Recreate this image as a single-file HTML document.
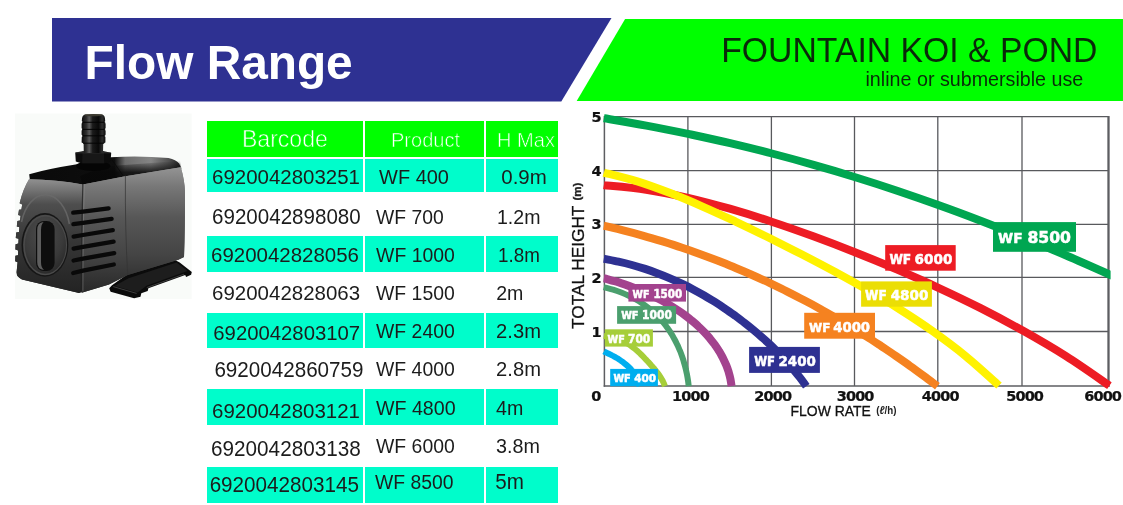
<!DOCTYPE html>
<html lang="en">
<head>
<meta charset="utf-8">
<title>Flow Range - Fountain Koi &amp; Pond</title>
<style>
html,body{margin:0;padding:0;background:#fff;}
body{width:1123px;height:505px;position:relative;overflow:hidden;font-family:"Liberation Sans",Arial,sans-serif;color:#1a1a1a;}
.abs{position:absolute;}
.blue{position:absolute;left:52px;top:18px;width:560px;height:83.5px;background:#2e3192;clip-path:polygon(0 0,559.5px 0,509.3px 100%,0 100%);}
.green{position:absolute;left:576.4px;top:18.6px;width:546.6px;height:82.9px;background:#00ff00;clip-path:polygon(49px 0,100% 0,100% 100%,0 100%);}
h1{position:absolute;margin:0;left:84.5px;top:38.4px;font-size:47.8px;line-height:50px;font-weight:bold;color:#fff;white-space:nowrap;letter-spacing:0px;}
h2{position:absolute;margin:0;left:721.2px;top:29.9px;font-size:33.75px;line-height:40px;font-weight:normal;color:#0a2a0a;white-space:nowrap;transform:scaleY(1.06);transform-origin:0 31.2px;}
.sub{position:absolute;left:865.5px;top:67.5px;font-size:19.7px;line-height:22px;color:#0a2a0a;white-space:nowrap;}
.hd{position:absolute;background:#00ff00;top:121.3px;height:35.5px;}
.ht{position:absolute;color:#fff;white-space:nowrap;line-height:1.1;-webkit-text-stroke:0.55px #00ff00;}
.cy{position:absolute;background:#00fdcb;}
.t{position:absolute;font-size:20px;line-height:22px;white-space:nowrap;color:#1c1c1c;transform:scaleY(1.03);transform-origin:0 18px;}
svg.chart{position:absolute;left:0;top:0;}
svg.pump{position:absolute;left:0;top:0;}
.ax{font-family:"DejaVu Sans","Liberation Sans",sans-serif;font-weight:bold;font-size:13.6px;letter-spacing:-0.8px;fill:#111;stroke:#111;stroke-width:0.25px;}
.al{font-family:"Liberation Sans",sans-serif;font-size:14.1px;fill:#111;stroke:#111;stroke-width:0.3px;}
.al2{font-family:"Liberation Sans",sans-serif;font-size:17px;fill:#111;stroke:#111;stroke-width:0.3px;}
.un{font-family:"Liberation Sans",sans-serif;font-size:11.5px;font-weight:bold;fill:#222;}
.lb{font-family:"DejaVu Sans","Liberation Sans",sans-serif;font-weight:bold;}
</style>
</head>
<body>
<div class="blue"></div>
<div class="green"></div>
<h1>Flow Range</h1>
<h2>FOUNTAIN KOI &amp; POND</h2>
<div class="sub">inline or submersible use</div>
<div class="hd" style="left:207px;width:156.2px"></div>
<div class="hd" style="left:365.3px;width:119.2px"></div>
<div class="hd" style="left:486.4px;width:71.6px"></div>
<span class="ht" id="hb" style="left:241.92px;top:126.91px;font-size:23.09px">Barcode</span>
<span class="ht" id="hp" style="left:391.02px;top:128.73px;font-size:20.00px">Product</span>
<span class="ht" id="hh" style="left:497.04px;top:129.07px;font-size:20.04px">H Max</span>
<div class="cy" style="left:207px;top:159.0px;width:156.2px;height:33.2px"></div>
<div class="cy" style="left:365.3px;top:159.0px;width:119.2px;height:33.2px"></div>
<div class="cy" style="left:486.4px;top:159.0px;width:71.7px;height:33.2px"></div>
<div class="cy" style="left:207px;top:236.2px;width:156.2px;height:35.6px"></div>
<div class="cy" style="left:365.3px;top:236.2px;width:119.2px;height:35.6px"></div>
<div class="cy" style="left:486.4px;top:236.2px;width:71.7px;height:35.6px"></div>
<div class="cy" style="left:207px;top:313.0px;width:156.2px;height:35.3px"></div>
<div class="cy" style="left:365.3px;top:313.0px;width:119.2px;height:35.3px"></div>
<div class="cy" style="left:486.4px;top:313.0px;width:71.7px;height:35.3px"></div>
<div class="cy" style="left:207px;top:389.0px;width:156.2px;height:35.8px"></div>
<div class="cy" style="left:365.3px;top:389.0px;width:119.2px;height:35.8px"></div>
<div class="cy" style="left:486.4px;top:389.0px;width:71.7px;height:35.8px"></div>
<div class="cy" style="left:207px;top:466.5px;width:156.2px;height:36.8px"></div>
<div class="cy" style="left:365.3px;top:466.5px;width:119.2px;height:36.8px"></div>
<div class="cy" style="left:486.4px;top:466.5px;width:71.7px;height:36.8px"></div>
<span class="t" id="b0" style="left:212.00px;top:166.30px;font-size:20.47px">6920042803251</span>
<span class="t" id="p0" style="left:379.10px;top:165.86px;font-size:19.96px">WF 400</span>
<span class="t" id="h0" style="left:501.29px;top:166.02px;font-size:20.46px">0.9m</span>
<span class="t" id="b1" style="left:212.07px;top:205.93px;font-size:20.57px">6920042898080</span>
<span class="t" id="p1" style="left:376.07px;top:206.76px;font-size:19.33px">WF 700</span>
<span class="t" id="h1" style="left:497.00px;top:205.60px;font-size:19.56px">1.2m</span>
<span class="t" id="b2" style="left:211.08px;top:243.75px;font-size:20.45px">6920042828056</span>
<span class="t" id="p2" style="left:376.10px;top:243.62px;font-size:19.41px">WF 1000</span>
<span class="t" id="h2" style="left:498.06px;top:244.60px;font-size:18.81px">1.8m</span>
<span class="t" id="b3" style="left:212.09px;top:281.70px;font-size:20.48px">6920042828063</span>
<span class="t" id="p3" style="left:376.05px;top:281.78px;font-size:19.41px">WF 1500</span>
<span class="t" id="h3" style="left:496.18px;top:281.78px;font-size:19.58px">2m</span>
<span class="t" id="b4" style="left:213.33px;top:321.66px;font-size:20.31px">6920042803107</span>
<span class="t" id="p4" style="left:376.05px;top:319.54px;font-size:19.41px">WF 2400</span>
<span class="t" id="h4" style="left:496.11px;top:320.24px;font-size:20.18px">2.3m</span>
<span class="t" id="b5" style="left:214.38px;top:359.05px;font-size:20.64px">6920042860759</span>
<span class="t" id="p5" style="left:376.05px;top:358.19px;font-size:19.41px">WF 4000</span>
<span class="t" id="h5" style="left:496.10px;top:358.42px;font-size:20.18px">2.8m</span>
<span class="t" id="b6" style="left:212.03px;top:399.72px;font-size:20.47px">6920042803121</span>
<span class="t" id="p6" style="left:375.98px;top:396.76px;font-size:19.64px">WF 4800</span>
<span class="t" id="h6" style="left:496.10px;top:396.60px;font-size:19.61px">4m</span>
<span class="t" id="b7" style="left:211.05px;top:437.54px;font-size:20.71px">6920042803138</span>
<span class="t" id="p7" style="left:376.05px;top:435.22px;font-size:19.41px">WF 6000</span>
<span class="t" id="h7" style="left:496.10px;top:435.36px;font-size:19.76px">3.8m</span>
<span class="t" id="b8" style="left:209.63px;top:473.60px;font-size:20.67px">6920042803145</span>
<span class="t" id="p8" style="left:375.11px;top:470.84px;font-size:19.34px">WF 8500</span>
<span class="t" id="h8" style="left:495.24px;top:471.02px;font-size:20.64px">5m</span>
<svg class="pump" width="210" height="200" viewBox="0 105 210 200" style="top:105px">
<defs>
<linearGradient id="pg-noz" x1="0" y1="0" x2="1" y2="0"><stop offset="0" stop-color="#0b0b0b"/><stop offset="0.2" stop-color="#2e2e2e"/><stop offset="0.32" stop-color="#5a5a5a"/><stop offset="0.46" stop-color="#1a1a1a"/><stop offset="0.7" stop-color="#090909"/><stop offset="0.86" stop-color="#2e2e2e"/><stop offset="1" stop-color="#0a0a0a"/></linearGradient>
<linearGradient id="pg-top" x1="0" y1="0" x2="1" y2="0"><stop offset="0" stop-color="#0a0a0a"/><stop offset="0.56" stop-color="#0e0e0e"/><stop offset="0.63" stop-color="#6c6c6c"/><stop offset="0.8" stop-color="#858585"/><stop offset="0.92" stop-color="#505050"/><stop offset="1" stop-color="#1c1c1c"/></linearGradient><linearGradient id="pg-topf" x1="0" y1="0" x2="0" y2="1"><stop offset="0" stop-color="#080808" stop-opacity="0"/><stop offset="0.45" stop-color="#080808" stop-opacity="0.85"/><stop offset="1" stop-color="#080808" stop-opacity="1"/></linearGradient>
<linearGradient id="pg-left" x1="0" y1="0" x2="0" y2="1"><stop offset="0" stop-color="#909090"/><stop offset="0.08" stop-color="#787878"/><stop offset="0.22" stop-color="#4e4e4e"/><stop offset="0.55" stop-color="#363636"/><stop offset="1" stop-color="#232323"/></linearGradient>
<linearGradient id="pg-lefth" x1="0" y1="0" x2="1" y2="0"><stop offset="0" stop-color="#000" stop-opacity="0.25"/><stop offset="0.35" stop-color="#000" stop-opacity="0"/><stop offset="0.85" stop-color="#fff" stop-opacity="0.05"/><stop offset="1" stop-color="#000" stop-opacity="0.2"/></linearGradient>
<linearGradient id="pg-right" x1="0" y1="0" x2="0" y2="1"><stop offset="0" stop-color="#949494"/><stop offset="0.15" stop-color="#787878"/><stop offset="0.4" stop-color="#575757"/><stop offset="0.7" stop-color="#444"/><stop offset="1" stop-color="#282828"/></linearGradient>
<linearGradient id="pg-righth" x1="0" y1="0" x2="1" y2="0"><stop offset="0" stop-color="#000" stop-opacity="0.12"/><stop offset="0.2" stop-color="#000" stop-opacity="0"/><stop offset="0.425" stop-color="#000" stop-opacity="0.05"/><stop offset="0.43" stop-color="#000" stop-opacity="0.16"/><stop offset="0.7" stop-color="#000" stop-opacity="0.1"/><stop offset="0.9" stop-color="#000" stop-opacity="0.22"/><stop offset="0.94" stop-color="#000" stop-opacity="0.5"/><stop offset="1" stop-color="#000" stop-opacity="0.6"/></linearGradient>
<radialGradient id="pg-disc" cx="0.45" cy="0.3" r="0.8"><stop offset="0" stop-color="#4c4c4c"/><stop offset="0.6" stop-color="#3a3a3a"/><stop offset="1" stop-color="#242424"/></radialGradient>
</defs>
<rect x="15" y="113.5" width="176.6" height="185.5" fill="#f9fbf9"/>
<!-- bracket -->
<path d="M109.2 288.3 L112 285.2 L127.7 274 L171.2 258 L179.7 262.6 L191.8 271.9 L191.1 274.7 L186.1 276.9 L185.2 275 L148.4 288.3 L147.7 291.1 L141.3 293.3 L140.5 296.8 L134.1 298.2 L110.6 291.8 Z" fill="#0b0b0b"/>
<path d="M114.5 286 L128.5 278.2 L176.5 262.6 L187.6 271 L146.5 285.8 L137.5 292.6 Z" fill="#1d1d1d"/>
<path d="M113.2 286.6 L136.6 293.4" stroke="#555" stroke-width="0.7"/>
<path d="M146.8 287.6 L184 274.2" stroke="#4a4a4a" stroke-width="0.8"/>
<!-- body: top surface (black) -->
<path d="M29.2 174.2 Q50 168.6 75.5 164.6 L111 157.2 Q140 155.4 168.5 158 Q176 159.6 179.2 163.6 L181.4 168.4 L124 178.4 L83 186.4 L30 181 Z" fill="url(#pg-top)"/>
<path d="M104 166.4 L124 165 L180 160.8 L181.4 168.4 L124 178.4 L83 186.4 L80 176 Z" fill="url(#pg-topf)"/>
<path d="M111 158.4 L124 177" stroke="#0a0a0a" stroke-width="1" opacity="0.8"/>
<!-- left (front) face -->
<path id="pf-left" d="M29 179.2 Q56 179.4 82.8 184.4 L82.6 200 L81.6 291 Q80.6 293.6 77 292.6 L22 279.4 Q16.4 277.2 16.6 272 L17.6 262.2 L15.2 261.2 L15.4 255.8 L18 255.2 L18.2 250.4 L15.4 249.6 L15.6 244.2 L18.4 243.6 L18.6 238.8 L15.8 238 L16.2 232.6 L19 232 L19.4 227.2 L16.8 226.4 L17.4 221 L20 220.6 L20.6 215.8 L18.2 215 L19 209.8 L21.4 209.4 L22.2 204.6 L19.6 203.2 Q23 189 29 179.2 Z" fill="url(#pg-left)"/>
<use href="#pf-left" fill="url(#pg-lefth)"/>
<!-- right face -->
<path id="pf-right" d="M82.8 184.4 L124 176.4 L180.8 167.2 Q184.6 180 185 192 Q185 230 184 257 L178.3 259.8 L127.7 275 L109 284.6 L81.6 292.8 Q81 240 82.8 183.4 Z" fill="url(#pg-right)"/>
<use href="#pf-right" fill="url(#pg-righth)"/>
<path d="M125.4 175.6 Q125 230 127.7 275" stroke="#333" stroke-width="0.9" fill="none" opacity="0.8"/>
<path d="M82.9 184 Q81.4 240 81.5 292" stroke="#1c1c1c" stroke-width="1.3" fill="none" opacity="0.75"/>
<path d="M84.2 184 Q82.8 240 82.9 291.4" stroke="#9a9a9a" stroke-width="0.9" fill="none" opacity="0.45"/>
<!-- disc -->
<path d="M21.5 222 A25 39.5 0 0 1 69.4 224" stroke="#6a6a6a" stroke-width="1.6" fill="none" opacity="0.8"/>
<ellipse cx="44.9" cy="244.9" rx="23.4" ry="31.8" fill="#161616"/>
<ellipse cx="45.1" cy="245" rx="22" ry="30.2" fill="#4a4a4a"/>
<ellipse cx="45.4" cy="245.2" rx="20.6" ry="28.6" fill="url(#pg-disc)"/>
<rect x="36" y="221" width="18.6" height="50" rx="8" ry="8" fill="#0e0e0e"/>
<path d="M37.2 230 Q37.2 222.6 43.6 222 Q41 224.6 41 230 L41 262 Q41 267.6 44 270 Q37.2 269.4 37.2 262 Z" fill="#5e5e5e"/>
<!-- vents -->
<g stroke="#090909" stroke-width="4.3" stroke-linecap="round" fill="none">
<path d="M73.2 212.7 L83 211.6 L108.6 208.3"/>
<path d="M73.4 224.1 L83 222.8 L111.6 218.8"/>
<path d="M73.6 236.6 L83 235 L112.8 230.2"/>
<path d="M73.6 248.6 L83 246.8 L113.6 241.7"/>
<path d="M73.6 260.5 L83 258.6 L114.2 253.1"/>
<path d="M73.2 273 L83 270.6 L113.8 264.5"/>
</g>
<!-- nut + ring -->
<ellipse cx="93.2" cy="166" rx="17.2" ry="5" fill="#050505"/>
<path d="M75.2 152.6 L82.5 151.2 L104 151.2 L111.2 152.8 L110.6 161.6 L104.4 163.6 L82 163.6 L75.8 161.4 Z" fill="#0c0c0c"/>
<path d="M82.5 151.6 L104 151.6 L104.2 163.2 L82.2 163.2 Z" fill="#171717"/>
<path d="M76 152.8 L110.6 152.8" stroke="#3c3c3c" stroke-width="0.8"/>
<!-- nozzle -->
<path d="M83.8 153 L83.6 143.6 L81.6 142.4 L81.8 137 L83 135.8 L81.6 134.8 L81.6 130.4 L83 129.4 L81.6 128.2 L81.6 123.4 L83 122.3 L81.8 121 Q81.6 114.8 85.6 114.4 L101.6 114.4 Q105.4 114.8 105.2 121 L104.2 122.3 L105.6 123.4 L105.6 128.2 L104.2 129.4 L105.6 130.4 L105.6 134.8 L104.2 135.8 L105.4 137 L105.4 142.4 L103.2 143.6 L103 153 Z" fill="url(#pg-noz)"/>
<g stroke="#030303" stroke-width="1.1" opacity="0.9"><path d="M82 122.3 L105.2 122.3"/><path d="M82 129.4 L105.2 129.4"/><path d="M82 135.8 L105.2 135.8"/><path d="M83 143.2 L104.2 143.2"/></g>
<ellipse cx="93.6" cy="115.1" rx="9.4" ry="1.1" fill="#3c3a30"/>
</svg>

<svg class="chart" width="1123" height="505" viewBox="0 0 1123 505">
<g stroke="#58595d" stroke-width="1.3" fill="none"><line x1="687.90" y1="116.60" x2="687.90" y2="386.10"/><line x1="771.40" y1="116.60" x2="771.40" y2="386.10"/><line x1="854.50" y1="116.60" x2="854.50" y2="386.10"/><line x1="937.80" y1="116.60" x2="937.80" y2="386.10"/><line x1="1022.00" y1="116.60" x2="1022.00" y2="386.10"/><line x1="604.40" y1="331.50" x2="1108.50" y2="331.50"/><line x1="604.40" y1="277.40" x2="1108.50" y2="277.40"/><line x1="604.40" y1="224.35" x2="1108.50" y2="224.35"/><line x1="604.40" y1="170.65" x2="1108.50" y2="170.65"/><line x1="604.40" y1="116.60" x2="1108.50" y2="116.60"/></g>
<line x1="1108.50" y1="116.00" x2="1108.50" y2="386.70" stroke="#5d5e62" stroke-width="2.3"/>
<line x1="604.40" y1="116.00" x2="604.40" y2="386.80" stroke="#5d5e62" stroke-width="1.5"/>
<line x1="603.70" y1="386.10" x2="1109.50" y2="386.10" stroke="#5d5e62" stroke-width="1.5"/>
<defs><clipPath id="cpr"><rect x="600" y="100" width="510.6" height="300"/></clipPath></defs>
<g fill="none" stroke-linecap="butt">
<path d="M603.9 351.4 L604.4 351.7 C604.8 351.9 606.2 352.5 607.1 352.9 C608.0 353.3 608.9 353.7 609.7 354.2 C610.6 354.6 611.4 355.0 612.2 355.5 C613.1 356.0 613.9 356.4 614.8 356.9 C615.6 357.4 616.5 357.8 617.3 358.3 C618.1 358.8 618.8 359.3 619.6 359.8 C620.4 360.3 621.1 360.9 621.9 361.4 C622.6 361.9 623.3 362.5 624.0 363.0 C624.7 363.6 625.4 364.1 626.1 364.7 C626.8 365.2 627.4 365.8 628.0 366.4 C628.7 367.0 629.3 367.5 629.9 368.1 C630.5 368.7 631.0 369.3 631.5 370.0 C632.1 370.6 632.6 371.2 633.1 371.9 C633.6 372.5 634.1 373.1 634.5 373.7 C635.0 374.4 635.4 375.1 635.8 375.7 C636.2 376.4 636.5 377.1 636.9 377.7 C637.2 378.4 637.5 379.1 637.8 379.8 C638.1 380.5 638.3 381.2 638.6 381.9 C638.8 382.6 639.0 383.3 639.1 384.0 C639.3 384.7 639.4 385.8 639.5 386.2 L639.5 386.2" stroke="#00aeef" stroke-width="6.0"/>
<path d="M603.8 335.9 L604.4 336.0 C605.3 336.2 608.2 336.5 609.9 336.9 C611.7 337.2 613.3 337.7 614.9 338.1 C616.5 338.6 618.1 339.1 619.5 339.7 C621.0 340.3 622.4 340.9 623.7 341.5 C625.0 342.2 626.3 342.9 627.5 343.6 C628.8 344.3 629.9 345.1 631.0 345.9 C632.2 346.7 633.2 347.5 634.3 348.4 C635.4 349.2 636.4 350.1 637.4 351.0 C638.4 351.9 639.4 352.8 640.3 353.7 C641.3 354.6 642.2 355.6 643.1 356.5 C644.0 357.5 644.8 358.4 645.7 359.3 C646.6 360.3 647.5 361.2 648.4 362.2 C649.3 363.1 650.1 364.1 651.0 365.1 C651.9 366.0 652.8 367.0 653.6 367.9 C654.4 368.9 655.2 369.8 655.9 370.8 C656.7 371.8 657.5 372.8 658.2 373.8 C658.9 374.8 659.6 375.8 660.3 376.8 C660.9 377.8 661.5 378.9 662.1 379.9 C662.7 380.9 663.2 382.0 663.7 383.0 C664.2 384.1 664.8 385.7 665.0 386.2 L665.0 386.2" stroke="#a6ce39" stroke-width="6.0"/>
<path d="M603.8 287.1 L604.4 287.3 C605.8 287.7 610.3 288.8 613.1 289.6 C615.9 290.5 618.7 291.5 621.3 292.5 C623.9 293.5 626.4 294.6 628.8 295.8 C631.2 297.0 633.5 298.2 635.8 299.5 C638.1 300.8 640.2 302.1 642.3 303.5 C644.4 304.9 646.4 306.4 648.3 307.9 C650.2 309.4 652.1 311.0 653.8 312.6 C655.6 314.2 657.2 315.8 658.8 317.5 C660.4 319.2 662.0 321.0 663.4 322.7 C664.9 324.5 666.2 326.2 667.5 328.1 C668.8 329.9 670.1 331.8 671.3 333.7 C672.5 335.5 673.5 337.4 674.5 339.3 C675.6 341.2 676.5 343.2 677.5 345.2 C678.4 347.1 679.2 349.1 680.1 351.0 C680.9 353.0 681.6 355.0 682.3 357.0 C683.0 358.9 683.6 360.9 684.1 362.9 C684.7 364.9 685.3 366.9 685.7 368.8 C686.2 370.8 686.6 372.8 687.0 374.7 C687.4 376.7 687.7 378.6 688.0 380.5 C688.3 382.4 688.6 385.2 688.7 386.2 L688.7 386.2" stroke="#4b9f6e" stroke-width="6.0"/>
<path d="M603.8 278.2 L604.4 278.3 C606.1 278.8 611.3 280.2 614.7 281.2 C618.1 282.2 621.4 283.3 624.7 284.4 C628.0 285.5 631.2 286.7 634.4 288.0 C637.5 289.2 640.7 290.5 643.7 291.8 C646.8 293.1 649.8 294.5 652.7 295.9 C655.7 297.3 658.6 298.8 661.4 300.3 C664.3 301.9 667.0 303.5 669.7 305.1 C672.4 306.7 675.0 308.3 677.5 310.0 C680.1 311.7 682.6 313.4 685.0 315.2 C687.4 317.0 689.7 318.8 691.9 320.7 C694.1 322.5 696.3 324.4 698.4 326.4 C700.5 328.3 702.5 330.3 704.4 332.3 C706.3 334.3 708.1 336.3 709.9 338.4 C711.6 340.5 713.2 342.6 714.8 344.7 C716.3 346.9 717.8 349.0 719.1 351.2 C720.5 353.4 721.7 355.7 722.9 357.9 C724.0 360.2 725.1 362.5 726.1 364.8 C727.0 367.1 727.8 369.4 728.6 371.8 C729.3 374.2 729.9 376.5 730.4 378.9 C730.9 381.3 731.4 385.0 731.6 386.2 L731.6 386.2" stroke="#a3438e" stroke-width="8.0"/>
<path d="M603.8 258.8 L604.4 258.9 C606.7 259.4 613.8 260.6 618.4 261.7 C623.0 262.7 627.6 263.8 632.0 265.0 C636.5 266.2 640.9 267.5 645.1 268.9 C649.4 270.3 653.6 271.8 657.8 273.4 C661.9 274.9 666.0 276.5 670.0 278.3 C674.0 280.0 677.9 281.8 681.8 283.7 C685.7 285.5 689.5 287.4 693.2 289.4 C697.0 291.4 700.6 293.4 704.2 295.5 C707.8 297.6 711.4 299.8 714.9 301.9 C718.4 304.1 721.8 306.4 725.1 308.7 C728.5 311.0 731.8 313.3 735.1 315.6 C738.3 318.0 741.5 320.4 744.6 322.8 C747.7 325.2 750.8 327.7 753.8 330.2 C756.8 332.7 759.7 335.2 762.5 337.8 C765.4 340.3 768.3 342.9 771.0 345.5 C773.7 348.1 776.3 350.8 778.9 353.4 C781.4 356.1 783.9 358.7 786.4 361.4 C788.8 364.1 791.2 366.9 793.5 369.6 C795.8 372.4 798.0 375.1 800.2 377.9 C802.3 380.7 805.3 384.8 806.3 386.2 L806.3 386.2" stroke="#2e3192" stroke-width="8.0"/>
<path d="M603.8 225.8 L604.4 225.9 C607.7 226.7 617.6 229.0 624.1 230.7 C630.6 232.3 637.1 234.0 643.5 235.8 C649.9 237.6 656.3 239.5 662.6 241.4 C668.9 243.4 675.2 245.4 681.4 247.5 C687.6 249.6 693.7 251.7 699.8 253.9 C705.9 256.2 712.0 258.4 718.0 260.7 C723.9 263.1 729.9 265.5 735.7 268.0 C741.6 270.4 747.5 272.9 753.3 275.5 C759.1 278.1 764.8 280.7 770.5 283.4 C776.1 286.1 781.7 288.8 787.3 291.6 C792.8 294.4 798.3 297.2 803.7 300.1 C809.2 302.9 814.5 305.8 819.8 308.8 C825.2 311.8 830.4 314.8 835.6 317.8 C840.9 320.8 846.1 323.9 851.2 327.0 C856.3 330.1 861.3 333.3 866.3 336.5 C871.3 339.6 876.3 342.9 881.2 346.1 C886.1 349.4 890.9 352.6 895.7 355.9 C900.5 359.2 905.3 362.5 910.0 365.9 C914.7 369.2 919.3 372.6 923.9 376.0 C928.5 379.3 935.1 384.5 937.4 386.2 L937.4 386.2" stroke="#f58220" stroke-width="8.0"/>
<path d="M603.8 185.1 L604.4 185.2 C611.4 185.9 632.3 187.6 646.2 189.7 C660.2 191.8 674.1 194.7 688.1 197.8 C702.0 201.0 715.9 204.8 729.8 208.7 C743.7 212.7 757.7 217.1 771.6 221.7 C785.6 226.3 799.4 231.2 813.3 236.3 C827.2 241.4 841.0 246.7 854.9 252.2 C868.8 257.7 882.7 263.4 896.6 269.3 C910.6 275.3 924.4 281.3 938.4 287.8 C952.4 294.3 966.5 301.0 980.6 308.1 C994.6 315.2 1008.4 322.6 1022.7 330.6 C1036.9 338.6 1051.6 347.0 1066.0 356.2 C1080.5 365.3 1102.1 380.7 1109.4 385.7 L1109.4 385.7" stroke="#ed1c24" stroke-width="8.0"/>
<path d="M603.8 172.6 L604.4 172.8 C609.9 174.2 626.3 178.1 637.3 181.4 C648.3 184.8 659.2 188.9 670.2 193.1 C681.2 197.3 692.1 202.0 703.1 206.8 C714.1 211.6 725.0 216.7 736.0 221.8 C747.0 227.0 758.0 232.3 768.9 237.8 C779.8 243.2 790.7 248.7 801.6 254.3 C812.6 260.0 823.5 265.7 834.4 271.6 C845.3 277.6 856.2 283.6 867.2 289.9 C878.1 296.2 889.0 302.6 900.0 309.5 C910.9 316.4 921.8 323.5 932.8 331.3 C943.8 339.1 954.9 347.3 965.9 356.3 C977.0 365.4 993.6 380.7 999.1 385.6 L999.1 385.6" stroke="#fff200" stroke-width="8.0"/>
<path d="M603.8 118.2 L604.4 118.3 C611.4 119.5 632.4 123.0 646.3 125.6 C660.3 128.2 674.2 131.0 688.2 133.9 C702.1 136.9 716.1 139.9 730.1 143.2 C744.0 146.5 758.1 149.9 772.0 153.5 C785.9 157.1 799.7 160.9 813.6 164.9 C827.5 168.8 841.4 172.9 855.3 177.2 C869.3 181.5 883.2 186.0 897.1 190.7 C911.1 195.4 924.9 200.2 938.9 205.3 C952.9 210.3 967.1 215.6 981.2 221.0 C995.3 226.4 1009.2 232.0 1023.5 237.8 C1037.7 243.5 1052.3 249.6 1066.8 255.7 C1081.3 261.9 1103.0 271.6 1110.2 274.8 L1113.9 276.4" stroke="#00a651" stroke-width="8.0" clip-path="url(#cpr)"/>
</g>
<rect x="993" y="222.1" width="83" height="29.7" fill="#00a651"/>
<text x="998.0" y="242.8" fill="#fff" stroke="#fff" stroke-width="0.55" class="lb" font-size="14.35" textLength="24.5" lengthAdjust="spacingAndGlyphs">WF</text>
<text x="1027.4" y="242.8" fill="#fff" stroke="#fff" stroke-width="0.55" class="lb" font-size="15.95" textLength="43.6" lengthAdjust="spacingAndGlyphs">8500</text>
<rect x="885.2" y="245.1" width="70.5" height="25.6" fill="#ed1c24"/>
<text x="889.4" y="263.5" fill="#fff" stroke="#fff" stroke-width="0.55" class="lb" font-size="13.18" textLength="21.8" lengthAdjust="spacingAndGlyphs">WF</text>
<text x="914.6" y="263.5" fill="#fff" stroke="#fff" stroke-width="0.55" class="lb" font-size="14.64" textLength="37.8" lengthAdjust="spacingAndGlyphs">6000</text>
<rect x="861.1" y="281.4" width="70.8" height="25.3" fill="#ebde05"/>
<text x="865.1" y="299.6" fill="#fff" stroke="#fff" stroke-width="0.55" class="lb" font-size="13.18" textLength="21.6" lengthAdjust="spacingAndGlyphs">WF</text>
<text x="890.7" y="299.6" fill="#fff" stroke="#fff" stroke-width="0.55" class="lb" font-size="14.64" textLength="37.7" lengthAdjust="spacingAndGlyphs">4800</text>
<rect x="804.2" y="312.8" width="70.8" height="25.9" fill="#f58220"/>
<text x="809.0" y="332.0" fill="#fff" stroke="#fff" stroke-width="0.55" class="lb" font-size="12.94" textLength="21.4" lengthAdjust="spacingAndGlyphs">WF</text>
<text x="833.2" y="332.0" fill="#fff" stroke="#fff" stroke-width="0.55" class="lb" font-size="14.38" textLength="36.9" lengthAdjust="spacingAndGlyphs">4000</text>
<rect x="749.1" y="346.9" width="70.8" height="26.0" fill="#2e3192"/>
<text x="754.2" y="366.2" fill="#fff" stroke="#fff" stroke-width="0.55" class="lb" font-size="13.18" textLength="20.8" lengthAdjust="spacingAndGlyphs">WF</text>
<text x="778.5" y="366.2" fill="#fff" stroke="#fff" stroke-width="0.55" class="lb" font-size="14.64" textLength="37.4" lengthAdjust="spacingAndGlyphs">2400</text>
<rect x="628.4" y="284.0" width="57.6" height="17.6" fill="#a3438e"/>
<text x="632.6" y="297.5" fill="#fff" stroke="#fff" stroke-width="0.55" class="lb" font-size="10.35" textLength="16.8" lengthAdjust="spacingAndGlyphs">WF</text>
<text x="653.4" y="297.5" fill="#fff" stroke="#fff" stroke-width="0.55" class="lb" font-size="11.50" textLength="28.9" lengthAdjust="spacingAndGlyphs">1500</text>
<rect x="617.1" y="306.1" width="59.0" height="17.7" fill="#4b9f6e"/>
<text x="621.2" y="319.4" fill="#fff" stroke="#fff" stroke-width="0.55" class="lb" font-size="10.35" textLength="17.3" lengthAdjust="spacingAndGlyphs">WF</text>
<text x="642.0" y="319.4" fill="#fff" stroke="#fff" stroke-width="0.55" class="lb" font-size="11.50" textLength="29.9" lengthAdjust="spacingAndGlyphs">1000</text>
<rect x="604.8" y="329.3" width="48.1" height="17.3" fill="#a6ce39"/>
<text x="607.6" y="342.7" fill="#fff" stroke="#fff" stroke-width="0.55" class="lb" font-size="10.35" textLength="17.2" lengthAdjust="spacingAndGlyphs">WF</text>
<text x="628.0" y="342.7" fill="#fff" stroke="#fff" stroke-width="0.55" class="lb" font-size="11.50" textLength="22.3" lengthAdjust="spacingAndGlyphs">700</text>
<rect x="610.2" y="368.9" width="47.7" height="17.3" fill="#00aeef"/>
<text x="613.4" y="382.0" fill="#fff" stroke="#fff" stroke-width="0.55" class="lb" font-size="10.00" textLength="17.3" lengthAdjust="spacingAndGlyphs">WF</text>
<text x="634.2" y="382.0" fill="#fff" stroke="#fff" stroke-width="0.55" class="lb" font-size="11.11" textLength="21.9" lengthAdjust="spacingAndGlyphs">400</text>
<text transform="translate(591.44,336.60) scale(1.0675,1)" class="ax">1</text>
<text transform="translate(591.44,282.50) scale(1.0675,1)" class="ax">2</text>
<text transform="translate(591.44,229.45) scale(1.0675,1)" class="ax">3</text>
<text transform="translate(591.44,175.75) scale(1.0675,1)" class="ax">4</text>
<text transform="translate(591.44,121.70) scale(1.0675,1)" class="ax">5</text>
<text transform="translate(591.24,400.80) scale(1.0675,1)" class="ax">0</text>
<text transform="translate(672.06,400.80) scale(1.0675,1)" class="ax">1000</text>
<text transform="translate(754.36,400.80) scale(1.0675,1)" class="ax">2000</text>
<text transform="translate(836.66,400.80) scale(1.0675,1)" class="ax">3000</text>
<text transform="translate(921.86,400.80) scale(1.0675,1)" class="ax">4000</text>
<text transform="translate(1006.16,400.80) scale(1.0675,1)" class="ax">5000</text>
<text transform="translate(1084.16,400.80) scale(1.0675,1)" class="ax">6000</text>
<text x="790.6" y="415.6" class="al" textLength="80.3" lengthAdjust="spacingAndGlyphs">FLOW RATE</text>
<text x="876.2" y="414.2" class="un" font-size="10.4" textLength="20.2" lengthAdjust="spacingAndGlyphs">(<tspan font-style="italic">ℓ</tspan>/h)</text>
<text transform="translate(583.8,329.0) rotate(-90)" class="al2" textLength="123.4" lengthAdjust="spacingAndGlyphs">TOTAL HEIGHT</text>
<text transform="translate(580.8,200.5) rotate(-90)" class="un" font-size="13.2" font-weight="normal" stroke="#222" stroke-width="0.35" textLength="17.9" lengthAdjust="spacingAndGlyphs">(m)</text>
</svg>
</body>
</html>
